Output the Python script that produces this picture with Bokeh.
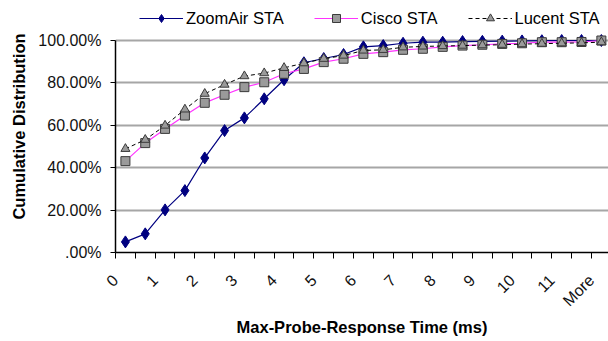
import math
from bokeh.plotting import figure
from bokeh.models import FixedTicker, Legend, LegendItem, Range1d, Title
from bokeh.embed import file_html
from bokeh.resources import INLINE

# 25 histogram bins (0, 0.5, ... 11.5, More)
categories = [str(v / 2).rstrip("0").rstrip(".") for v in range(24)] + ["More"]
tick_labels = ["0", "1", "2", "3", "4", "5", "6", "7", "8", "9", "10", "11", "More"]
y_ticks = [0.0, 0.2, 0.4, 0.6, 0.8, 1.0]
y_tick_labels = [".00%", "20.00%", "40.00%", "60.00%", "80.00%", "100.00%"]

zoomair = [0.050, 0.088, 0.201, 0.292, 0.446, 0.575, 0.635, 0.725, 0.815, 0.895,
           0.915, 0.934, 0.970, 0.976, 0.987, 0.992, 0.992, 0.995, 0.996, 0.997,
           0.998, 0.999, 1.000, 1.000, 1.000]
cisco = [0.431, 0.516, 0.583, 0.646, 0.706, 0.744, 0.780, 0.803, 0.843, 0.866,
         0.898, 0.914, 0.937, 0.945, 0.956, 0.961, 0.970, 0.976, 0.980, 0.984,
         0.987, 0.992, 0.992, 0.993, 1.000]
lucent = [0.489, 0.532, 0.599, 0.675, 0.749, 0.792, 0.832, 0.846, 0.871, 0.893,
          0.914, 0.929, 0.953, 0.956, 0.968, 0.972, 0.974, 0.976, 0.978, 0.980,
          0.983, 0.985, 0.987, 0.989, 0.992]

x = [i + 0.5 for i in range(len(categories))]
label_idx = list(range(0, len(categories), 2))
label_shift = 0.5
label_pos = [x[i] - label_shift for i in label_idx]

FONT = "Liberation Sans"

# frame spans the whole top; the area above 100% holds the legend
p = figure(frame_width=493, frame_height=252, output_backend="svg", toolbar_location=None,
           x_range=Range1d(0, 24.86), y_range=Range1d(0, 1.0 + 40 / 212),
           min_border_left=115, min_border_right=0, min_border_top=0,
           min_border_bottom=89)
p.outline_line_color = None
p.background_fill_color = "white"
p.border_fill_color = "white"

# y axis
p.yaxis.ticker = FixedTicker(ticks=y_ticks, minor_ticks=[])
p.yaxis.bounds = (0, 1)
p.yaxis.major_label_overrides = {t: s for t, s in zip(y_ticks, y_tick_labels)}
p.yaxis.major_tick_out = 5
p.yaxis.major_tick_in = 0
p.yaxis.major_tick_line_color = "black"
p.yaxis.axis_line_color = "black"
p.yaxis.axis_line_width = 1.5
p.yaxis.major_label_text_font = FONT
p.yaxis.major_label_text_font_size = "16px"
p.yaxis.major_label_text_color = "#111111"
p.yaxis.major_label_standoff = 9

ytitle = Title(text="Cumulative Distribution", align="center", offset=-22,
               text_font=FONT, text_font_style="bold", text_font_size="16.5px",
               text_color="black", standoff=15)
p.add_layout(ytitle, "left")

# x axis
p.xaxis.ticker = FixedTicker(ticks=label_pos, minor_ticks=list(range(26)))
p.xaxis.major_label_overrides = {pos: lab for pos, lab in zip(label_pos, tick_labels)}
p.xaxis.major_tick_line_color = None
p.xaxis.major_tick_out = 0
p.xaxis.major_tick_in = 0
p.xaxis.minor_tick_out = 6
p.xaxis.minor_tick_in = 0
p.xaxis.minor_tick_line_color = "black"
p.xaxis.axis_line_color = "black"
p.xaxis.axis_line_width = 1.5
p.xaxis.major_label_orientation = math.pi / 4
p.xaxis.major_label_text_font = FONT
p.xaxis.major_label_text_font_size = "16px"
p.xaxis.major_label_text_color = "#111111"
p.xaxis.major_label_standoff = 19
p.xaxis.axis_label = "Max-Probe-Response Time (ms)"
p.xaxis.axis_label_text_font = FONT
p.xaxis.axis_label_text_font_style = "bold"
p.xaxis.axis_label_text_font_size = "16.5px"
p.xaxis.axis_label_text_color = "black"
p.xaxis.axis_label_standoff = 0

p.xgrid.visible = False
p.ygrid.ticker = FixedTicker(ticks=y_ticks, minor_ticks=[])
p.ygrid.grid_line_color = "#a6a6a6"
p.ygrid.grid_line_width = 2

# series
l1 = p.line(x, zoomair, line_color="#000080", line_width=1.2)
s1 = p.scatter(x, zoomair, marker="diamond", size=12, fill_color="#000080", line_color="#000080")
l2 = p.line(x, cisco, line_color="#ff33ff", line_width=1.2)
s2 = p.scatter(x, cisco, marker="square", size=9, fill_color="#9a9a9a", line_color="#3a3a3a")
l3 = p.line(x, lucent, line_color="black", line_width=1, line_dash="4 3")
s3 = p.scatter(x, lucent, marker="triangle", size=9, fill_color="#9a9a9a", line_color="#3a3a3a")

legend = Legend(items=[
    LegendItem(label="ZoomAir STA", renderers=[l1, s1]),
    LegendItem(label="Cisco STA", renderers=[l2, s2]),
    LegendItem(label="Lucent STA", renderers=[l3, s3]),
], orientation="horizontal", location=(24, 224))
legend.border_line_color = None
legend.background_fill_alpha = 0
legend.label_text_font = FONT
legend.label_text_font_size = "16.5px"
legend.label_text_color = "black"
legend.glyph_width = 44
legend.label_standoff = 3
legend.spacing = 30
legend.padding = 2
legend.margin = 0
p.add_layout(legend, "center")

open("out.html", "w").write(file_html(p, INLINE))
